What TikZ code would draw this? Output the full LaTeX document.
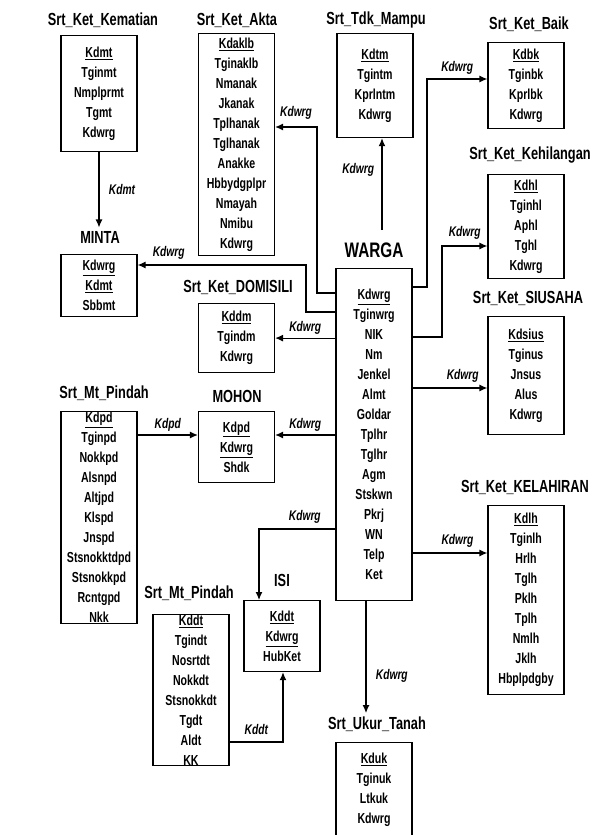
\documentclass[tikz,border=0pt]{standalone}
\usepackage{fontspec}
\setmainfont{Liberation Sans}[FakeStretch=0.73]
\usetikzlibrary{arrows.meta}

\begin{document}
\begin{tikzpicture}[x=1pt, y=-1pt, line/.style={>={Latex[length=8pt, width=7pt]}, line width=1.2pt},
	entity/.style={draw, line width=1.2pt, minimum width=76pt, inner sep=0pt, anchor=north, align=center, font=\fontsize{14.5}{20}\selectfont\bfseries},
	header/.style={font=\fontsize{17.5}{20}\selectfont\bfseries},
	rel/.style={font=\fontsize{14}{16}\selectfont\bfseries\itshape}]

	\useasboundingbox (0,0) rectangle (600,835);

	% judul
	\node[header] (kematianttl) at (103,20) {Srt\_Ket\_Kematian};
	\node[header] (aktattl) at (237,20) {Srt\_Ket\_Akta};
	\node[header] (mamputtl) at (376,20) {Srt\_Tdk\_Mampu};
	\node[header] (baikttl) at (529,24) {Srt\_Ket\_Baik};
	\node[header] (hilangttl) at (530,155) {Srt\_Ket\_Kehilangan};
	\node[header] (usahattl) at (528,298) {Srt\_Ket\_SIUSAHA};
	\node[header] (lahirttl) at (525,487) {Srt\_Ket\_KELAHIRAN};
	\node[header, font=\fontsize{21}{24}\selectfont\bfseries] (wargattl) at (374,250) {WARGA};
	\node[header] (mintattl) at (100,237) {MINTA};
	\node[header] (domisilittl) at (238,287) {Srt\_Ket\_DOMISILI};
	\node[header] (mohonttl) at (237,396) {MOHON};
	\node[header] (pindahttl) at (104,393) {Srt\_Mt\_Pindah};
	\node[header] (isittl) at (282,580) {ISI};
	\node[header] (pindahdtttl) at (189,593) {Srt\_Mt\_Pindah};
	\node[header] (ukurttl) at (377,724) {Srt\_Ukur\_Tanah};

	% tabel
	\node[entity, minimum height=116pt] (kematian) at (99,35)
		{\underline{Kdmt}\\Tginmt\\Nmplprmt\\Tgmt\\Kdwrg};
	\node[entity, minimum height=222pt] (akta) at (236.5,33)
		{\underline{Kdaklb}\\Tginaklb\\Nmanak\\Jkanak\\Tplhanak\\Tglhanak\\Anakke\\Hbbydgplpr\\Nmayah\\Nmibu\\Kdwrg};
	\node[entity, minimum height=104pt] (mampu) at (375,33)
		{\underline{Kdtm}\\Tgintm\\Kprlntm\\Kdwrg};
	\node[entity, minimum height=86pt] (baik) at (526,42)
		{\underline{Kdbk}\\Tginbk\\Kprlbk\\Kdwrg};
	\node[entity, minimum height=104pt] (hilang) at (526,174)
		{\underline{Kdhl}\\Tginhl\\Aphl\\Tghl\\Kdwrg};
	\node[entity, minimum height=118pt] (usaha) at (526,316)
		{\underline{Kdsius}\\Tginus\\Jnsus\\Alus\\Kdwrg};
	\node[entity, minimum height=189pt] (lahir) at (526,505)
		{\underline{Kdlh}\\Tginlh\\Hrlh\\Tglh\\Pklh\\Tplh\\Nmlh\\Jklh\\Hbplpdgby};
	\node[entity, minimum height=332pt] (warga) at (374,268)
		{\underline{Kdwrg}\\Tginwrg\\NIK\\Nm\\Jenkel\\Almt\\Goldar\\Tplhr\\Tglhr\\Agm\\Stskwn\\Pkrj\\WN\\Telp\\Ket};
	\node[entity, minimum height=62pt] (minta) at (99,254)
		{\underline{Kdwrg}\\\underline{Kdmt}\\Sbbmt};
	\node[entity, minimum height=69pt] (domisili) at (236.5,303)
		{\underline{Kddm}\\Tgindm\\Kdwrg};
	\node[entity, minimum height=71pt] (mohon) at (236.5,411)
		{\underline{Kdpd}\\\underline{Kdwrg}\\Shdk};
	\node[entity, minimum height=212pt] (pindah) at (99,411)
		{\underline{Kdpd}\\Tginpd\\Nokkpd\\Alsnpd\\Altjpd\\Klspd\\Jnspd\\Stsnokktdpd\\Stsnokkpd\\Rcntgpd\\Nkk};
	\node[entity, minimum height=71pt] (isi) at (282,600)
		{\underline{Kddt}\\\underline{Kdwrg}\\HubKet};
	\node[entity, minimum height=151pt] (pindahdt) at (191,614)
		{\underline{Kddt}\\Tgindt\\Nosrtdt\\Nokkdt\\Stsnokkdt\\Tgdt\\Aldt\\KK};
	\node[entity, minimum height=94pt] (ukur) at (374,742)
		{\underline{Kduk}\\Tginuk\\Ltkuk\\Kdwrg};

	% titik belok
	\coordinate (a0) at (317,293);
	\coordinate (a1) at (317,127);
	\coordinate (m0) at (306,312);
	\coordinate (m1) at (306,265);
	\coordinate (mh) at (0,435);
	\coordinate (i0) at (259,529);
	\coordinate (k0) at (283,742);
	\coordinate (t0) at (382,230);
	\coordinate (b0) at (427,287);
	\coordinate (b1) at (427,79);
	\coordinate (h0) at (442,337);
	\coordinate (h1) at (442,246);
	\coordinate (s0) at (0,388);
	\coordinate (l0) at (0,553);
	\coordinate (u0) at (366,0);

	% relasi
	\draw[->, line] (kematian.south) -- node[rel, right=6pt] {Kdmt} (kematian.south |- mintattl.north);
	\draw[->, line] (warga.west |- a0) -- (a0) -- (a1) -- node[rel, above=4pt] {Kdwrg} (akta.east |- a1);
	\draw[->, line] (warga.west |- m0) -- (m0) -- (m1) -- node[rel, above=2pt, pos=0.815] {Kdwrg} (minta.east |- m1);
	\draw[->, line] (warga.west |- domisili.east) -- node[rel, above=0pt] {Kdwrg} (domisili.east);
	\draw[->, line] (warga.west |- mh) -- node[rel, above=0pt] {Kdwrg} (mohon.east |- mh);
	\draw[->, line] (pindah.east |- mh) -- node[rel, above=0pt] {Kdpd} (mohon.west |- mh);
	\draw[->, line] (warga.west |- i0) -- node[rel, above=2pt, pos=0.4] {Kdwrg} (i0) -- (isi.north -| i0);
	\draw[->, line] (pindahdt.east |- k0) -- node[rel, above=3pt] {Kddt} (k0) -- (isi.south -| k0);
	\draw[->, line] (t0) -- node[rel, left=4pt, pos=0.65] {Kdwrg} (mampu.south -| t0);
	\draw[->, line] (warga.east |- b0) -- (b0) -- (b1) -- node[rel, above=1pt] {Kdwrg} (baik.west |- b1);
	\draw[->, line] (warga.east |- h0) -- (h0) -- (h1) -- node[rel, above=3pt] {Kdwrg} (hilang.west |- h1);
	\draw[->, line] (warga.east |- s0) -- node[rel, above=2pt, pos=0.67] {Kdwrg} (usaha.west |- s0);
	\draw[->, line] (warga.east |- l0) -- node[rel, above=2pt, pos=0.6] {Kdwrg} (lahir.west |- l0);
	\draw[->, line] (warga.south -| u0) -- node[rel, right=6pt, pos=0.67] {Kdwrg} (ukurttl.north -| u0);

\end{tikzpicture}
\end{document}
